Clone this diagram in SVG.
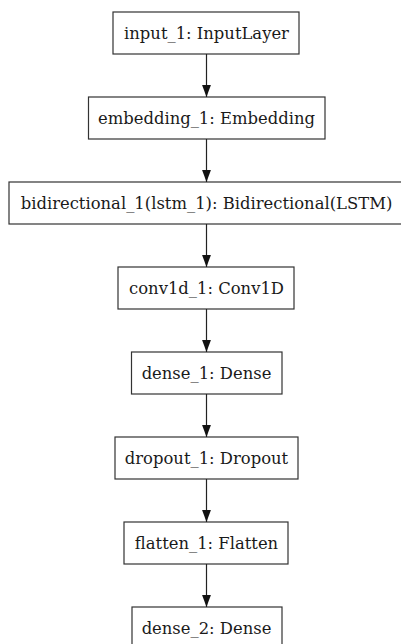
<svg xmlns="http://www.w3.org/2000/svg" width="401" height="644" viewBox="0 0 401 644">
<defs>
<style>
.box{fill:#fff;stroke:#333;stroke-width:1.2}
.lbl{font-family:"DejaVu Serif",serif;font-size:16.4px;fill:#1a1a1a;text-anchor:middle}
.edge{stroke:#222;stroke-width:1.2;fill:none}
</style>
<marker id="ah" markerWidth="12" markerHeight="10" refX="12" refY="5" orient="auto" markerUnits="userSpaceOnUse">
<path d="M0,0.6 L12,5 L0,9.4 Z" fill="#111"/>
</marker>
</defs>
<rect width="401" height="644" fill="#fff"/>
<g id="input_1"><rect class="box" x="113" y="12" width="186" height="42"/><text class="lbl" x="206.5" y="38.5">input_1: InputLayer</text></g>
<g id="embedding_1"><rect class="box" x="88.5" y="97" width="236.5" height="42"/><text class="lbl" x="206.5" y="123.5">embedding_1: Embedding</text></g>
<g id="bidirectional_1"><rect class="box" x="9" y="182" width="395" height="42"/><text class="lbl" x="206.5" y="208.5">bidirectional_1(lstm_1): Bidirectional(LSTM)</text></g>
<g id="conv1d_1"><rect class="box" x="118" y="267" width="176" height="42"/><text class="lbl" x="206.5" y="293.5">conv1d_1: Conv1D</text></g>
<g id="dense_1"><rect class="box" x="131.5" y="352" width="150.5" height="42"/><text class="lbl" x="206.5" y="378.5">dense_1: Dense</text></g>
<g id="dropout_1"><rect class="box" x="115" y="437" width="183" height="42"/><text class="lbl" x="206.5" y="463.5">dropout_1: Dropout</text></g>
<g id="flatten_1"><rect class="box" x="124" y="522" width="164" height="42"/><text class="lbl" x="206.5" y="548.5">flatten_1: Flatten</text></g>
<g id="dense_2"><rect class="box" x="132" y="607" width="150" height="42"/><text class="lbl" x="206.5" y="633.5">dense_2: Dense</text></g>
<g id="edges">
<line class="edge" x1="206.5" y1="54" x2="206.5" y2="97" marker-end="url(#ah)"/>
<line class="edge" x1="206.5" y1="139" x2="206.5" y2="182" marker-end="url(#ah)"/>
<line class="edge" x1="206.5" y1="224" x2="206.5" y2="267" marker-end="url(#ah)"/>
<line class="edge" x1="206.5" y1="309" x2="206.5" y2="352" marker-end="url(#ah)"/>
<line class="edge" x1="206.5" y1="394" x2="206.5" y2="437" marker-end="url(#ah)"/>
<line class="edge" x1="206.5" y1="479" x2="206.5" y2="522" marker-end="url(#ah)"/>
<line class="edge" x1="206.5" y1="564" x2="206.5" y2="607" marker-end="url(#ah)"/>
</g>
</svg>
